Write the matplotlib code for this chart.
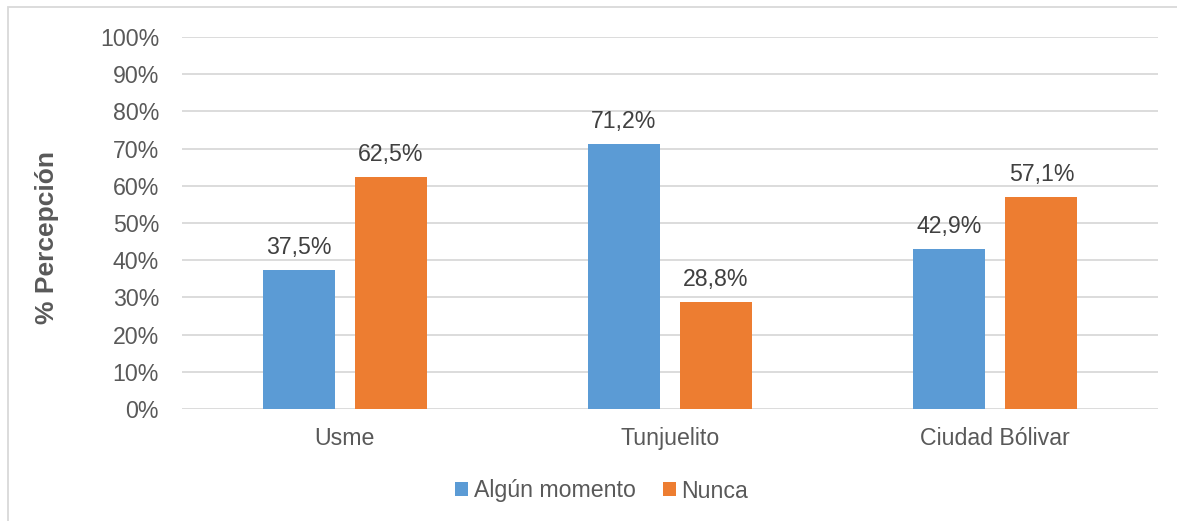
import matplotlib
matplotlib.use("Agg")
import matplotlib.pyplot as plt
from matplotlib.patches import Rectangle
import numpy as np

categories = ["Usme", "Tunjuelito", "Ciudad Bólivar"]
algun_momento = [37.5, 71.2, 42.9]
nunca = [62.5, 28.8, 57.1]
series_names = ["Algún momento", "Nunca"]
yticks = [0, 10, 20, 30, 40, 50, 60, 70, 80, 90, 100]

plt.rcParams['font.family'] = ['Liberation Sans', 'DejaVu Sans']
TXT = "#595959"
BLUE = "#5B9BD5"
ORANGE = "#ED7D31"
FS = 16.7

fig = plt.figure(figsize=(11.77, 5.21), dpi=100)
ax = fig.add_axes([182/1177, 1-409/521, (1158-182)/1177, (409-37)/521])

x = np.arange(len(categories))
w = 0.221
off = 0.1415
b1 = ax.bar(x - off, algun_momento, w, color=BLUE, label=series_names[0], zorder=3)
b2 = ax.bar(x + off, nunca, w, color=ORANGE, label=series_names[1], zorder=3)

for bars, vals in ((b1, algun_momento), (b2, nunca)):
    for r, v in zip(bars, vals):
        ax.annotate(f"{v:.1f}%".replace(".", ","), (r.get_x() + r.get_width()/2, v),
                    xytext=(0, 11.5), textcoords="offset points", ha="center", va="baseline",
                    fontsize=FS, color="#404040")

ax.set_xlim(-0.5, 2.5)
ax.set_ylim(0, 100)
ax.set_yticks(yticks)
ax.set_yticklabels([f"{t}%" for t in yticks])
ax.set_xticks(x)
ax.set_xticklabels(categories)
ax.tick_params(axis='both', length=0, labelsize=FS, colors=TXT)
ax.tick_params(axis='y', pad=16.5)
ax.tick_params(axis='x', pad=13)
ax.grid(axis='y', color="#D9D9D9", linewidth=1.3, zorder=0)
for s in ax.spines.values():
    s.set_visible(False)

fig.text(47/1177, 1-237/521, "% Percepción", rotation=90, ha="center", va="center",
         fontsize=19, fontweight="bold", color=TXT)

leg = fig.legend(loc="center", bbox_to_anchor=(601.5/1177, 1-491/521), ncol=2, frameon=False,
                 fontsize=FS, handlelength=0.56, handleheight=0.56, handletextpad=0.26,
                 columnspacing=1.16, borderpad=0)
for t in leg.get_texts():
    t.set_color(TXT)

fig.patches.append(Rectangle((8/1177, -0.1), 1.2, 1-7/521+0.1, transform=fig.transFigure,
                             fill=False, edgecolor="#D9D9D9", linewidth=1.3))

fig.savefig("out.png", dpi=100)
